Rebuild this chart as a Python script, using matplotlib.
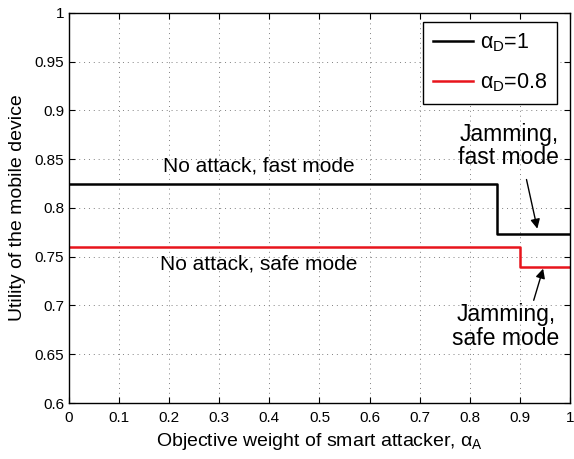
import matplotlib
matplotlib.use("Agg")
import matplotlib.pyplot as plt
import numpy as np

plt.rcParams['font.family'] = ['Liberation Sans', 'DejaVu Sans']
plt.rcParams['mathtext.fontset'] = 'custom'
plt.rcParams['mathtext.rm'] = 'Liberation Sans'
plt.rcParams['mathtext.it'] = 'Liberation Sans'

# step curves: x breakpoints and utility values
x_d1 = [0.0, 0.855, 0.855, 1.0]
u_d1 = [0.825, 0.825, 0.773, 0.773]
x_d08 = [0.0, 0.90, 0.90, 1.0]
u_d08 = [0.760, 0.760, 0.739, 0.739]

xticks = np.round(np.arange(0, 1.01, 0.1), 1)
yticks = np.round(np.arange(0.6, 1.001, 0.05), 2)
xtick_labels = ['0', '0.1', '0.2', '0.3', '0.4', '0.5', '0.6', '0.7', '0.8', '0.9', '1']
ytick_labels = ['0.6', '0.65', '0.7', '0.75', '0.8', '0.85', '0.9', '0.95', '1']

fig = plt.figure(figsize=(5.74, 4.59), dpi=100)
ax = fig.add_axes([0.1202, 0.122, 0.8728, 0.8497])

ax.plot(x_d1, u_d1, color='black', lw=1.8, label=r'$\alpha_D$=1')
ax.plot(x_d08, u_d08, color='#e8141c', lw=1.8, label=r'$\alpha_D$=0.8')

ax.set_xlim(0, 1)
ax.set_ylim(0.6, 1)
ax.set_xticks(xticks)
ax.set_xticklabels(xtick_labels)
ax.set_yticks(yticks)
ax.set_yticklabels(ytick_labels)
ax.tick_params(direction='in', labelsize=11, top=True, right=True, length=4)
ax.tick_params(axis='x', pad=6)
ax.grid(True, linestyle=(0, (1, 4)), color='#808080', lw=0.7)
for s in ax.spines.values():
    s.set_linewidth(1.0)

ax.set_xlabel(r'Objective weight of smart attacker, $\alpha_A$', fontsize=14, labelpad=4)
ax.set_ylabel('Utility of the mobile device', fontsize=14, labelpad=6)

leg = ax.legend(loc='upper right', fontsize=15.5, fancybox=False, edgecolor='black',
                framealpha=1, handlelength=1.9, handletextpad=0.3, borderpad=0.45,
                labelspacing=0.8, borderaxespad=0,
                bbox_to_anchor=(0.974, 0.977))
leg.get_frame().set_linewidth(1.0)

ax.text(0.379, 0.843, 'No attack, fast mode', fontsize=15, ha='center', va='center')
ax.text(0.379, 0.743, 'No attack, safe mode', fontsize=15, ha='center', va='center')
ax.text(0.878, 0.8636, 'Jamming,\nfast mode', fontsize=16.5, ha='center', va='center',
        linespacing=1.05)
ax.text(0.872, 0.678, 'Jamming,\nsafe mode', fontsize=16.5, ha='center', va='center',
        linespacing=1.05)
ax.annotate('', xy=(0.936, 0.776), xytext=(0.912, 0.832),
            arrowprops=dict(arrowstyle='-|>', color='black', lw=1.0, mutation_scale=14))
ax.annotate('', xy=(0.948, 0.7405), xytext=(0.926, 0.7026),
            arrowprops=dict(arrowstyle='-|>', color='black', lw=1.0, mutation_scale=14))

fig.savefig('out.png', dpi=100)
